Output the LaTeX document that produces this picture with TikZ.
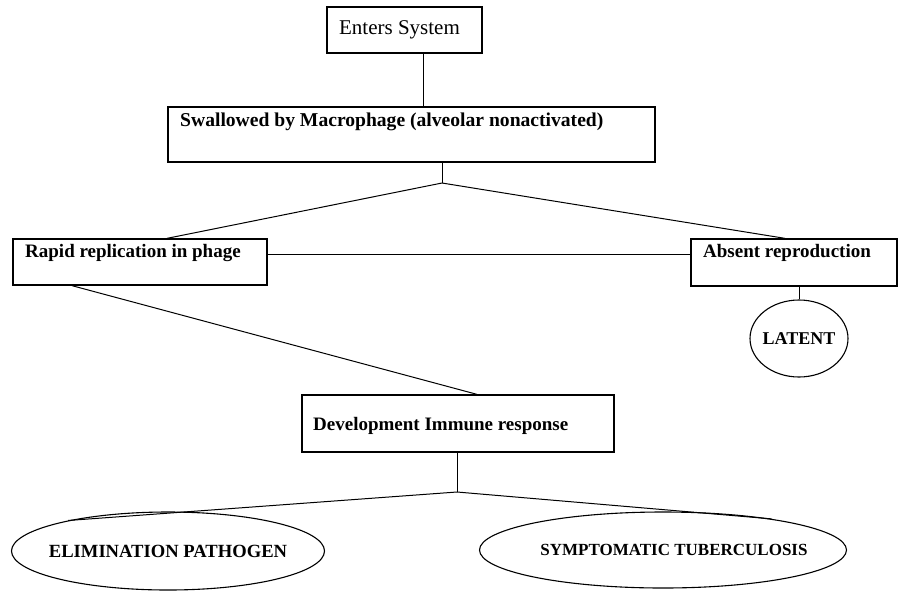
\documentclass[tikz,border=0pt]{standalone}
\usepackage{fontspec}
\setmainfont{Liberation Serif}
\usetikzlibrary{shapes.geometric,calc}
\tikzset{
  box/.style={draw, line width=1.3pt, inner sep=0pt},
  lbl/.style={inner sep=0pt, font=\bfseries\fontsize{19}{22}\selectfont},
  oval/.style={ellipse, draw, line width=1.1pt, inner sep=0pt},
  conn/.style={line width=1pt},
}
\begin{document}
\begin{tikzpicture}[x=1pt,y=-1pt]
\useasboundingbox (0,0) rectangle (899,592);
% boxes
\node[box, minimum width=155pt, minimum height=46pt, font=\fontsize{21}{24}\selectfont] (enters) at (404.5,30) {\hspace{-10pt}Enters System};
\node[box, minimum width=487pt, minimum height=55pt] (swal) at (411.5,134.5) {};
\node[lbl, anchor=west, font=\bfseries\fontsize{19.6}{22}\selectfont] (swalt) at (180,122) {Swallowed by Macrophage (alveolar nonactivated)};
\node[box, minimum width=254pt, minimum height=46pt] (rapid) at (140,262) {};
\node[lbl, anchor=west] (rapidt) at (25,253) {Rapid replication in phage};
\node[box, minimum width=206pt, minimum height=47pt] (absent) at (794,262.5) {};
\node[lbl, anchor=west] (absentt) at (703,253) {Absent reproduction};
\node[oval, minimum width=98pt, minimum height=77pt, font=\bfseries\fontsize{18}{21}\selectfont] (latent) at (799,338.5) {\makebox[0pt]{LATENT}};
\node[box, minimum width=312pt, minimum height=57pt] (dev) at (458,423.5) {};
\node[lbl, anchor=west] (devt) at (313,426) {Development Immune response};
\node[oval, minimum width=313pt, minimum height=78pt, font=\bfseries\fontsize{18.6}{21}\selectfont] (elim) at (168,551) {\makebox[0pt]{ELIMINATION PATHOGEN}};
\node[oval, minimum width=367pt, minimum height=76pt, font=\bfseries\fontsize{17}{20}\selectfont] (sym) at (663,550) {\makebox[0pt]{\hspace{22pt}SYMPTOMATIC TUBERCULOSIS}};
% junction points
\coordinate (apex1) at (442,183);
\coordinate (apex2) at (457,492);
% connectors
\draw[conn] ([xshift=18.5pt]enters.south) -- ([xshift=18.5pt]enters.south |- swal.north);
\draw[conn] (apex1 |- swal.south) -- (apex1);
\draw[conn] (apex1) -- ([xshift=27pt]rapid.north);
\draw[conn] (apex1) -- ([xshift=-9pt]absent.north);
\draw[conn] ([yshift=8pt]rapid.east) -- ([yshift=8pt]rapid.east -| absent.west);
\draw[conn] ([xshift=5pt]absent.south) -- ([xshift=5pt]absent.south |- latent.north);
\draw[conn] ([xshift=-68pt]rapid.south) -- ([xshift=19pt]dev.north);
\draw[conn] (apex2 |- dev.south) -- (apex2);
\draw[conn] (apex2) -- (elim.163);
\draw[conn] (apex2) -- (sym.16);
\end{tikzpicture}
\end{document}
